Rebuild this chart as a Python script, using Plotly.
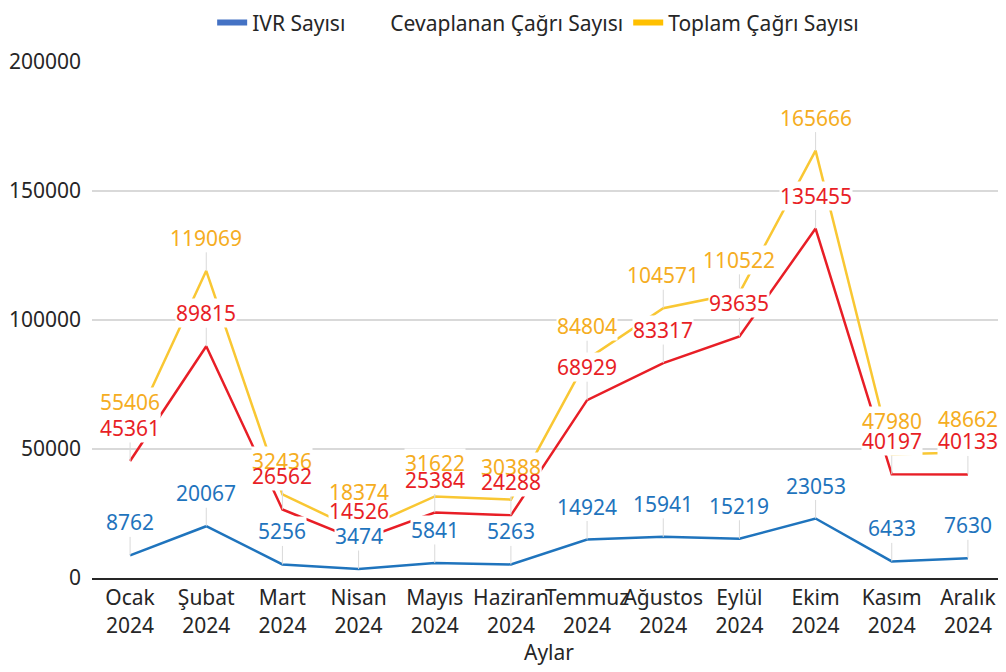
import plotly.graph_objects as go

months = ["Ocak", "Şubat", "Mart", "Nisan", "Mayıs", "Haziran", "Temmuz",
          "Ağustos", "Eylül", "Ekim", "Kasım", "Aralık"]
year = "2024"
ivr = [8762, 20067, 5256, 3474, 5841, 5263, 14924, 15941, 15219, 23053, 6433, 7630]
cevaplanan = [45361, 89815, 26562, 14526, 25384, 24288, 68929, 83317, 93635, 135455, 40197, 40133]
toplam = [55406, 119069, 32436, 18374, 31622, 30388, 84804, 104571, 110522, 165666, 47980, 48662]

cats = [f"{m}<br>{year}" for m in months]
FONT = "Noto Sans"

series = [
    ("Toplam Çağrı Sayısı", toplam, "#f9c733", "#f5ad22", "#ffc000"),
    ("Cevaplanan Çağrı Sayısı", cevaplanan, "#e81e26", "#e81e26", "rgba(0,0,0,0)"),
    ("IVR Sayısı", ivr, "#1f74bd", "#1f74bd", "#4472c4"),
]
# label offset tweaks (pixels above point)
label_offset_override = {("Toplam Çağrı Sayısı", "Nisan"): -39,
                         ("Cevaplanan Çağrı Sayısı", "Nisan"): -30}

fig = go.Figure()
for name, vals, lc, tc, legc in series:
    fig.add_trace(go.Scatter(x=cats, y=vals, mode="lines", name=name,
                             line=dict(color=lc, width=2.5), showlegend=False,
                             hoverinfo="x+y"))

# legend-only entries
for name, vals, lc, tc, legc in reversed(series):
    fig.add_trace(go.Scatter(x=[None], y=[None], mode="lines", name=name,
                             line=dict(color=legc, width=6), showlegend=True))

bg_annots = []
txt_annots = []
for name, vals, lc, tc, legc in series:
    for m, c, v in zip(months, cats, vals):
        off = label_offset_override.get((name, m), -33)
        # white background box (figure spaces, same width as digits) + leader line
        bg_annots.append(dict(
            x=c, y=v, xref="x", yref="y", text="\u2007" * len(str(v)),
            showarrow=True, arrowhead=0, arrowwidth=1, arrowcolor="#d9d9d9",
            ax=0, ay=off, standoff=0,
            font=dict(family=FONT, size=21, color="white"),
            bgcolor="white", borderpad=0,
        ))
        # visible label text on top
        txt_annots.append(dict(
            x=c, y=v, xref="x", yref="y", text=str(v),
            showarrow=True, arrowhead=0, arrowwidth=0.1, arrowcolor="rgba(0,0,0,0)",
            ax=0, ay=off, standoff=0,
            font=dict(family=FONT, size=21, color=tc),
            borderpad=0,
        ))

fig.update_layout(
    width=1006, height=672,
    margin=dict(l=84, r=8, t=54, b=102, autoexpand=False),
    plot_bgcolor="white", paper_bgcolor="white",
    font=dict(family=FONT, size=21, color="#262626"),
    showlegend=True,
    legend=dict(orientation="h", xref="container", yref="container",
                x=0.527, xanchor="center", y=0.978, yanchor="middle",
                font=dict(family=FONT, size=21, color="#262626"),
                itemwidth=30, tracegroupgap=0),
    annotations=bg_annots + txt_annots,
    xaxis=dict(
        type="category", range=[-0.5, 11.5], automargin=False,
        showgrid=False, showline=True, linecolor="#262626", linewidth=2,
        ticks="", tickangle=0, tickfont=dict(family=FONT, size=21, color="#262626"),
        title=dict(text="Aylar", font=dict(family=FONT, size=21, color="#262626"), standoff=2),
        fixedrange=True,
    ),
    yaxis=dict(
        range=[0, 200000], tickvals=[0, 50000, 100000, 150000, 200000],
        tickformat="d", showgrid=True, gridcolor="#d9d9d9", gridwidth=1.5,
        zeroline=False, showline=False, ticks="", automargin=False,
        tickfont=dict(family=FONT, size=21, color="#262626"),
        ticklabelstandoff=10,
    ),
)

fig.write_html("out.html")
